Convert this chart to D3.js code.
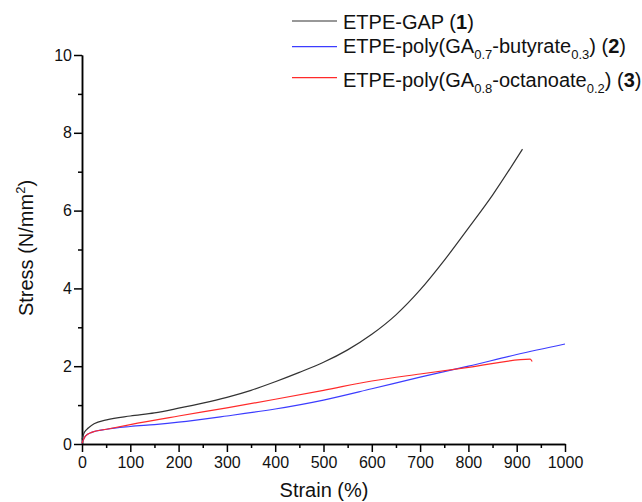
<!DOCTYPE html>
<html>
<head>
<meta charset="utf-8">
<script src="https://cdn.jsdelivr.net/npm/d3@7"></script>
<style>
    body { margin: 0; background: #fff; }
    svg { display: block; font-family: "Liberation Sans", Arial, sans-serif; }
    .axis path, .axis line { stroke: #000; stroke-width: 1.5; }
    .axis text { font-size: 16px; fill: #111; }
    .legend-text { font-size: 20px; fill: #111; }
    .axis-title { font-size: 20px; fill: #111; }
</style>
</head>
<body>
<div class="chart"></div>
<script>
// data
var strain1 = [0, 5, 13, 25, 51, 100, 150, 200, 250, 300, 350, 400, 450, 500, 550, 600, 650, 700, 750, 800, 850, 912];
var stress1 = [0.12, 0.3, 0.41, 0.52, 0.62, 0.72, 0.8, 0.92, 1.05, 1.2, 1.38, 1.6, 1.84, 2.1, 2.42, 2.82, 3.32, 3.96, 4.72, 5.55, 6.4, 7.58];

var strain2 = [0, 7, 20, 51, 100, 150, 200, 300, 400, 500, 600, 700, 800, 900, 1000];
var stress2 = [0.02, 0.2, 0.3, 0.38, 0.45, 0.5, 0.56, 0.72, 0.9, 1.13, 1.42, 1.72, 2.0, 2.3, 2.57];

var strain3 = [0, 7, 20, 51, 100, 200, 300, 400, 500, 600, 700, 800, 928, 932];
var stress3 = [0.02, 0.2, 0.3, 0.38, 0.5, 0.72, 0.93, 1.15, 1.38, 1.62, 1.8, 1.97, 2.18, 2.12];

var xTicks = [0, 100, 200, 300, 400, 500, 600, 700, 800, 900, 1000];
var yTicks = [0, 2, 4, 6, 8, 10];

var seriesColors = ["#333333", "#3c3cff", "#ff2a2a"];

var width = 642, height = 502;

var svg = d3.select(".chart").append("svg")
    .attr("width", width)
    .attr("height", height);

// scales
var x = d3.scaleLinear().domain([0, 1000]).range([82, 565]);
var y = d3.scaleLinear().domain([0, 10]).range([444, 55]);

// minor ticks first, then major axes on top
svg.append("g")
    .attr("class", "axis")
    .attr("transform", "translate(0,444)")
    .call(d3.axisBottom(x).tickValues(d3.range(50, 1000, 100)).tickSize(4).tickSizeOuter(0).tickFormat(""));

svg.append("g")
    .attr("class", "axis")
    .attr("transform", "translate(82,0)")
    .call(d3.axisLeft(y).tickValues(d3.range(1, 10, 2)).tickSize(4).tickSizeOuter(0).tickFormat(""));

svg.append("g")
    .attr("class", "axis")
    .attr("transform", "translate(0,444)")
    .call(d3.axisBottom(x).tickValues(xTicks).tickSize(8).tickSizeOuter(0).tickPadding(5).tickFormat(d3.format("d")));

svg.append("g")
    .attr("class", "axis")
    .attr("transform", "translate(82,0)")
    .call(d3.axisLeft(y).tickValues(yTicks).tickSize(8).tickSizeOuter(0).tickPadding(2).tickFormat(d3.format("d")));

// curves
var line = d3.line()
    .x(d => x(d[0]))
    .y(d => y(d[1]))
    .curve(d3.curveMonotoneX);

var series = [
    d3.zip(strain1, stress1),
    d3.zip(strain2, stress2),
    d3.zip(strain3, stress3)
];

svg.append("g")
    .selectAll("path")
    .data(series)
    .enter()
    .append("path")
    .attr("fill", "none")
    .attr("stroke", (d, i) => seriesColors[i])
    .attr("stroke-width", 1.2)
    .attr("d", line);

// axis titles
svg.append("text")
    .attr("class", "axis-title")
    .attr("x", 324)
    .attr("y", 497)
    .attr("text-anchor", "middle")
    .text("Strain (%)");

var yTitle = svg.append("text")
    .attr("class", "axis-title")
    .attr("transform", "translate(33,248) rotate(-90)")
    .attr("text-anchor", "middle");
yTitle.append("tspan").text("Stress (N/mm");
yTitle.append("tspan").attr("font-size", "13px").attr("dy", -8).text("2");
yTitle.append("tspan").attr("dy", 8).text(")");

// legend
var legendY = [21, 46.7, 77.7];
var legendBase = [29.3, 52.7, 86.7];

var legend = svg.append("g");

legend.selectAll("line")
    .data(legendY)
    .enter()
    .append("line")
    .attr("x1", 292)
    .attr("x2", 337)
    .attr("y1", d => d)
    .attr("y2", d => d)
    .attr("stroke", (d, i) => seriesColors[i])
    .attr("stroke-width", 1.2);

// helper: write a legend label made of [text, kind] parts
function legendLabel(parts, baseline) {
    var t = legend.append("text")
        .attr("class", "legend-text")
        .attr("x", 343)
        .attr("y", baseline);
    var shift = 0;
    parts.forEach(function(p) {
        var s = t.append("tspan").text(p[0]);
        if (p[1] === "sub") {
            s.attr("font-size", "13px").attr("dy", 6 - shift);
            shift = 6;
        } else {
            if (shift !== 0) s.attr("dy", -shift);
            shift = 0;
            if (p[1] === "bold") s.attr("font-weight", "bold");
        }
    });
}

legendLabel([["ETPE-GAP ("], ["1", "bold"], [")"]], legendBase[0]);
legendLabel([["ETPE-poly(GA"], ["0.7", "sub"], ["-butyrate"], ["0.3", "sub"], [") ("], ["2", "bold"], [")"]], legendBase[1]);
legendLabel([["ETPE-poly(GA"], ["0.8", "sub"], ["-octanoate"], ["0.2", "sub"], [") ("], ["3", "bold"], [")"]], legendBase[2]);
</script>
</body>
</html>
